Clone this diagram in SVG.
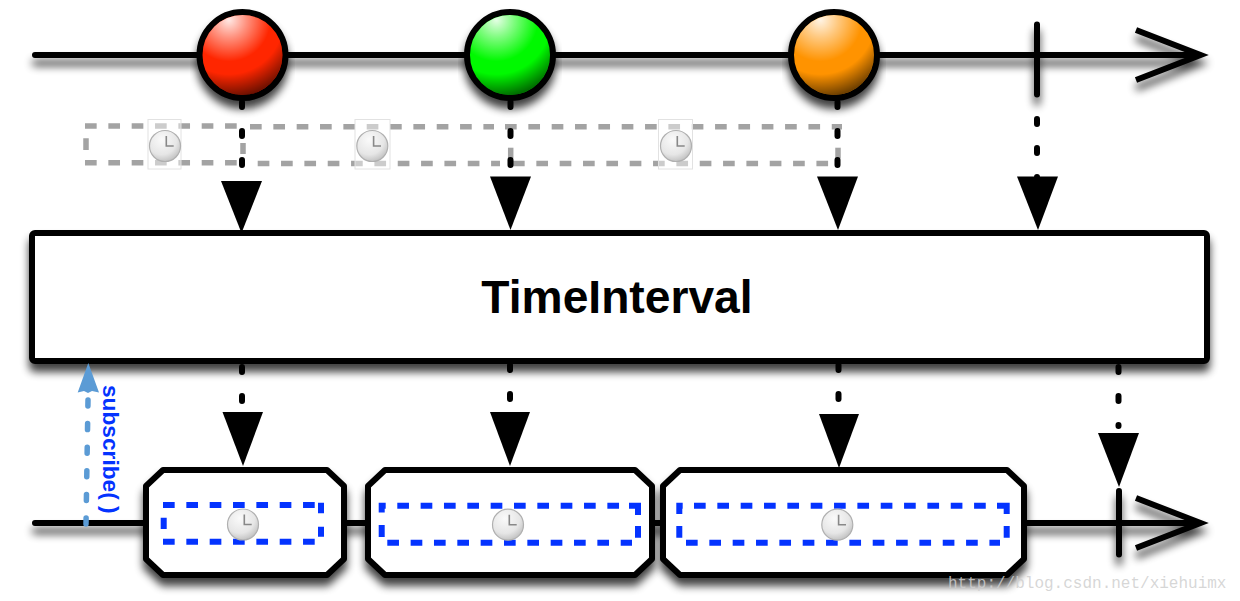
<svg xmlns="http://www.w3.org/2000/svg" xmlns:xlink="http://www.w3.org/1999/xlink" width="1240" height="601" viewBox="0 0 1240 601">
<style>
.line{fill:none;stroke:#000;stroke-width:6;stroke-linecap:round;stroke-linejoin:round}
.arm{fill:none;stroke:#000;stroke-width:6;stroke-linecap:butt;stroke-linejoin:miter;stroke-miterlimit:12}
.dash{fill:none;stroke:#000;stroke-width:6;stroke-linecap:round;stroke-dasharray:5 24}
.head{fill:#000}
.grey{fill:none;stroke:#a3a3a3;stroke-width:5.5;stroke-dasharray:11.67 11.67}
.greys{fill:none;stroke:#a3a3a3;stroke-width:5.5}
.blue{fill:none;stroke:#0433ff;stroke-width:6;stroke-dasharray:11.67 11.67}
.blues{fill:none;stroke:#0433ff;stroke-width:6;stroke-linejoin:miter}
.box{fill:#fff;stroke:#000;stroke-width:6;stroke-linejoin:round}
.ball{stroke:#000;stroke-width:6}
.sq{fill:#fff;fill-opacity:.45;stroke:#e2e2e2;stroke-width:1}
</style>
<defs>
<filter id="sh" x="-10%" y="-30%" width="120%" height="180%"><feGaussianBlur in="SourceAlpha" stdDeviation="4"/><feOffset dy="8"/><feComponentTransfer><feFuncA type="linear" slope=".75"/></feComponentTransfer><feMerge><feMergeNode/><feMergeNode in="SourceGraphic"/></feMerge></filter>
<radialGradient id="gloss" cx=".33" cy=".06" r="1"><stop offset="0" stop-color="#fff" stop-opacity=".9"/><stop offset=".22" stop-color="#fff" stop-opacity=".5"/><stop offset=".52" stop-color="#fff" stop-opacity="0"/><stop offset=".68" stop-color="#000" stop-opacity="0"/><stop offset="1" stop-color="#000" stop-opacity=".65"/></radialGradient>
<radialGradient id="dial" cx=".4" cy=".3" r=".8"><stop offset="0" stop-color="#fafafa"/><stop offset=".6" stop-color="#e6e6e6"/><stop offset="1" stop-color="#b5b5b5"/></radialGradient>
<g id="clock"><circle r="15.5" fill="url(#dial)" stroke="#b0b0b0" stroke-width="1.2"/><path d="M1.3-10V0H8.7" fill="none" stroke="#888" stroke-width="1.6"/></g>
</defs>
<rect width="1240" height="601" fill="#fff"/>
<g id="connectors">
<g filter="url(#sh)"><path class="line" d="M35 55H1199M1037 24.5V94.5"/><path class="arm" d="M1136 30L1200.5 55L1136 80"/></g>
<g filter="url(#sh)"><path class="line" d="M35 523H1199M1119 491V554.5"/><path class="arm" d="M1136 498L1200.5 523L1136 548"/></g>
</g>
<g id="interval-1"><path class="grey" d="M85 126H238M85 162.7H238"/><path class="greys" d="M86 138.3V150M243 143V154"/><rect class="sq" x="148" y="119.5" width="33" height="49.5"/><use xlink:href="#clock" transform="translate(165 146)"/></g>
<g id="interval-2"><path class="grey" d="M250 126.7H494M257.7 163.5H500"/><path class="greys" d="M510.7 147.7V158.3"/><rect class="sq" x="355" y="119.5" width="35" height="49.5"/><use xlink:href="#clock" transform="translate(372.3 146)"/></g>
<g id="interval-3"><path class="grey" d="M505 126.7H842M513 163.5H836"/><path class="greys" d="M838 147.7V158.3"/><rect class="sq" x="658.5" y="119.5" width="34" height="49.5"/><use xlink:href="#clock" transform="translate(676 146)"/></g>
<g id="arrows">
<path class="dash" d="M242 102V166"/><path class="dash" d="M510.5 102V166"/><path class="dash" d="M837.5 102V166"/><path class="dash" d="M1037 119V182"/>
<path class="dash" d="M242 367V402"/><path class="dash" d="M510 365V400"/><path class="dash" d="M838.5 365V400"/><path class="dash" d="M1118.5 367V426"/>
<path class="head" d="M221 181H262L241.5 233Z"/><path class="head" d="M490 176.5H531L510.5 230Z"/><path class="head" d="M817 176.5H858L838 230Z"/><path class="head" d="M1017 176.5H1058L1038 230Z"/>
<path class="head" d="M222.5 412H263L243 466Z"/><path class="head" d="M490 412H530L510 466Z"/><path class="head" d="M819 414H859L839 468Z"/><path class="head" d="M1098 433H1139L1119 487Z"/>
</g>
<g id="red-ball"><circle class="ball" cx="242.5" cy="55" r="43" fill="#ff2600" filter="url(#sh)"/><circle cx="242.5" cy="55" r="40" fill="url(#gloss)"/></g>
<g id="green-ball"><circle class="ball" cx="510" cy="55" r="43" fill="#00f900" filter="url(#sh)"/><circle cx="510" cy="55" r="40" fill="url(#gloss)"/></g>
<g id="orange-ball"><circle class="ball" cx="834" cy="55" r="43" fill="#ff9300" filter="url(#sh)"/><circle cx="834" cy="55" r="40" fill="url(#gloss)"/></g>
<g id="operator"><rect class="box" x="32" y="233" width="1175" height="128" rx="3" filter="url(#sh)"/><text x="617" y="313" text-anchor="middle" font-family="'Liberation Sans',Arial,sans-serif" font-weight="700" font-size="46.2" fill="#000">TimeInterval</text></g>
<g id="result-1"><path class="box" filter="url(#sh)" d="M163 470H327L344 486V559L327 575H163L146 559V486Z"/><path class="blue" d="M163 505H315M163 541.7H315"/><path class="blues" d="M163.7 517.7V529M321 502.7V513.3M321 526.7V536.7"/><use xlink:href="#clock" transform="translate(243 524.5)"/></g>
<g id="result-2"><path class="box" filter="url(#sh)" d="M385 470H635L652 486V559L635 575H385L368 559V486Z"/><path class="blue" d="M397.3 505.7H622M387.3 542.7H632"/><path class="blues" d="M381.7 512.6V505.7H385.7M629 505.7H638V515M638 526V537.7M381.7 525V537"/><use xlink:href="#clock" transform="translate(508 524.7)"/></g>
<g id="result-3"><path class="box" filter="url(#sh)" d="M680 470H1007L1024 486V559L1007 575H680L663 559V486Z"/><path class="blue" d="M694 505.7H990M686 542.7H1000"/><path class="blues" d="M679.3 514V505.7H682.7M997 505.7H1006.7V514M1006.7 526V537.7M679.3 526V537.7"/><use xlink:href="#clock" transform="translate(837.3 524.7)"/></g>
<g id="subscribe-arrow"><path d="M88 400L86 524" fill="none" stroke="#5b9bd5" stroke-width="5.5" stroke-linecap="round" stroke-dasharray="6 17.6"/>
<path d="M88.3 363L99 392.5L92 391L88 393L84 391L77.7 392.5Z" fill="#5b9bd5"/></g>
<text id="subscribe" transform="translate(103 385) rotate(90)" font-family="'Liberation Sans',Arial,sans-serif" font-weight="700" font-size="22.7" fill="#0433ff">subscribe( )</text>
<text x="948" y="588" font-family="'Liberation Mono','DejaVu Sans Mono',monospace" font-size="16" fill="#cfcfcf" fill-opacity=".85">http://blog.csdn.net/xiehuimx</text>
</svg>
